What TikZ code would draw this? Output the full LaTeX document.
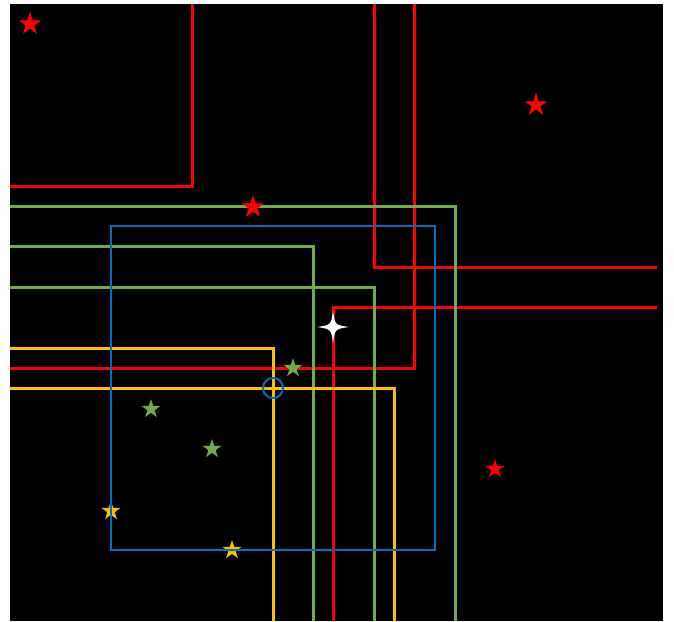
\documentclass[tikz,border=0pt]{standalone}
\usetikzlibrary{shapes.geometric}
\definecolor{cred}{HTML}{FF0000}
\definecolor{cgreen}{HTML}{70AD47}
\definecolor{cyellow}{HTML}{FFC000}
\definecolor{cblue}{HTML}{0070C0}
\begin{document}
\begin{tikzpicture}[x=1pt,y=-1pt,
  ln/.style={line width=3pt},
  starnode/.style={star,star points=5,star point ratio=2.6,inner sep=0pt,draw=none,minimum size=#1},
  starnode/.default=22pt]
\useasboundingbox (0,0) rectangle (674,621);
\fill[white] (0,0) rectangle (674,621);
\fill[black] (10,4) rectangle (663,621);
% red lines
\coordinate (r1a) at (10,186); \coordinate (r1b) at (192,186); \coordinate (r1c) at (192,4);
\draw[ln,cred] (r1a) -- (r1b) -- (r1c);
\coordinate (r2a) at (374,4); \coordinate (r2b) at (374,267); \coordinate (r2c) at (657,267);
\draw[ln,cred] (r2a) -- (r2b) -- (r2c);
\coordinate (r3a) at (414,4); \coordinate (r3b) at (414,368); \coordinate (r3c) at (10,368);
\draw[ln,cred] (r3a) -- (r3b) -- (r3c);
\coordinate (r4a) at (657,307); \coordinate (r4b) at (333,307); \coordinate (r4c) at (333,621);
\draw[ln,cred] (r4a) -- (r4b) -- (r4c);
% green lines
\coordinate (g1a) at (10,206); \coordinate (g1b) at (455,206); \coordinate (g1c) at (455,621);
\draw[ln,cgreen] (g1a) -- (g1b) -- (g1c);
\coordinate (g2a) at (10,246); \coordinate (g2b) at (313,246); \coordinate (g2c) at (313,621);
\draw[ln,cgreen] (g2a) -- (g2b) -- (g2c);
\coordinate (g3a) at (10,287); \coordinate (g3b) at (374,287); \coordinate (g3c) at (374,621);
\draw[ln,cgreen] (g3a) -- (g3b) -- (g3c);
% yellow lines
\coordinate (y1a) at (10,348); \coordinate (y1b) at (273,348); \coordinate (y1c) at (273,621);
\draw[ln,cyellow] (y1a) -- (y1b) -- (y1c);
\coordinate (y2a) at (10,388); \coordinate (y2b) at (394,388); \coordinate (y2c) at (394,621);
\draw[ln,cyellow] (y2a) -- (y2b) -- (y2c);
% stars
\node[starnode=24pt,fill=cred] (s1) at (30,24) {};
\node[starnode=24pt,fill=cred] (s2) at (536,105) {};
\node[starnode=24pt,fill=cred] (s3) at (253,207) {};
\node[starnode=20pt,fill=cred] (s4) at (495,469) {};
\node[starnode=20pt,fill=cgreen] (s5) at (293,368) {};
\node[starnode=20pt,fill=cgreen] (s6) at (151,409) {};
\node[starnode=20pt,fill=cgreen] (s7) at (212,449) {};
\node[starnode=20pt,fill=cyellow] (s8) at (111,511) {};
\node[starnode=20pt,fill=cyellow] (s9) at (232,550) {};
% blue rectangle and circle
\draw[cblue,line width=2pt] (111,226) rectangle (435,550);
\draw[cblue,line width=2pt] (273,388) circle[radius=10];
% white four-point star
\coordinate (w) at (333,327);
\fill[white] (333,311) .. controls (335,325) .. (349,327)
  .. controls (335,329) .. (333,343)
  .. controls (331,329) .. (317,327)
  .. controls (331,325) .. cycle;
\end{tikzpicture}
\end{document}
